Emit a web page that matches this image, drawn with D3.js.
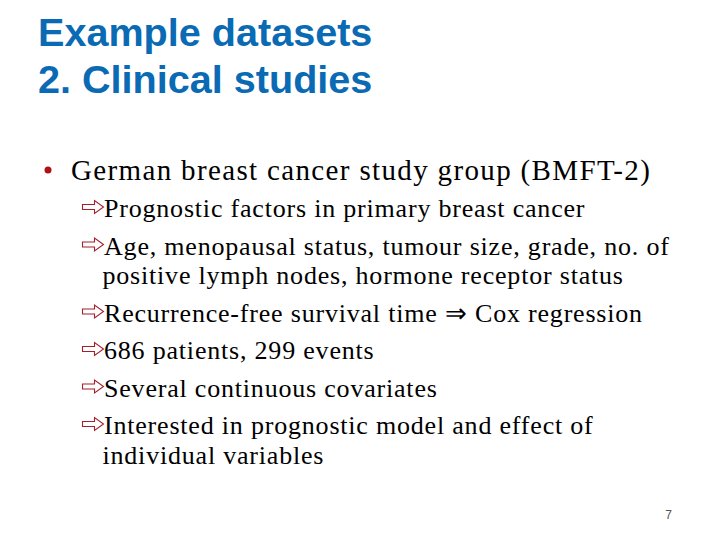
<!DOCTYPE html>
<html>
<head>
<meta charset="utf-8">
<script src="https://cdn.jsdelivr.net/npm/d3@7"></script>
<style>
  body { margin: 0; background: #fff; }
  svg { display: block; }
</style>
</head>
<body>
<div id="slide"></div>
<script>
// slide content
const titleLines = ['Example datasets', '2. Clinical studies'];
const bulletText = 'German breast cancer study group (BMFT-2)';
const subItems = [
    ['Prognostic factors in primary breast cancer'],
    ['Age, menopausal status, tumour size, grade, no. of', 'positive lymph nodes, hormone receptor status'],
    ['Recurrence-free survival time \u21D2 Cox regression'],
    ['686 patients, 299 events'],
    ['Several continuous covariates'],
    ['Interested in prognostic model and effect of', 'individual variables']
];
const pageNumber = '7';

const width = 720, height = 540;

const svg = d3.select('#slide')
    .append('svg')
    .attr('width', width)
    .attr('height', height);

// title
svg.append('g')
    .selectAll('text')
    .data(titleLines)
    .join('text')
    .attr('x', 38)
    .attr('y', (d, i) => 46 + i * 47)
    .attr('font-family', 'Liberation Sans, Arial, sans-serif')
    .attr('font-weight', 'bold')
    .attr('font-size', 39.6)
    .attr('fill', '#0A6AB4')
    .text(d => d);

// main bullet
svg.append('circle')
    .attr('cx', 48)
    .attr('cy', 170)
    .attr('r', 3.5)
    .attr('fill', '#B0101A');

svg.append('text')
    .attr('x', 71)
    .attr('y', 180)
    .attr('font-family', 'Liberation Serif, Times New Roman, serif')
    .attr('font-size', 29)
    .attr('letter-spacing', 1.35)
    .attr('fill', '#000')
    .text(bulletText);

// flatten sub items into lines with y positions
const itemGap = 37.5, wrapGap = 29.5;
let lines = [];
let y = 217;
subItems.forEach((item, i) => {
    if (i > 0) y += itemGap;
    item.forEach((t, j) => {
        if (j > 0) y += wrapGap;
        lines.push({ text: t, y: y, first: j === 0 });
    });
});

const sub = svg.append('g');

// outline arrow used as the sub bullet
const arrowPts = [[0, -2.5], [12, -2.5], [12, -6.5], [21, 0], [12, 6.5], [12, 2.5], [0, 2.5]];
const arrowPath = d3.line()(arrowPts) + 'Z';

sub.selectAll('.arrow')
    .data(lines.filter(d => d.first))
    .join('path')
    .attr('class', 'arrow')
    .attr('transform', d => `translate(82.5,${d.y - 10})`)
    .attr('d', arrowPath)
    .attr('fill', '#fff')
    .attr('stroke', '#A3202C')
    .attr('stroke-width', 1.1);

sub.selectAll('.line')
    .data(lines)
    .join('text')
    .attr('class', 'line')
    .attr('x', d => d.first ? 104 : 102.5)
    .attr('y', d => d.y)
    .attr('font-family', 'Liberation Serif, Times New Roman, serif')
    .attr('font-size', 26)
    .attr('letter-spacing', 0.8)
    .attr('fill', '#000')
    .text(d => d.text);

// page number
svg.append('text')
    .attr('x', 672)
    .attr('y', 519)
    .attr('text-anchor', 'end')
    .attr('font-family', 'Liberation Sans, Arial, sans-serif')
    .attr('font-size', 12)
    .attr('fill', '#555')
    .text(pageNumber);
</script>
</body>
</html>
